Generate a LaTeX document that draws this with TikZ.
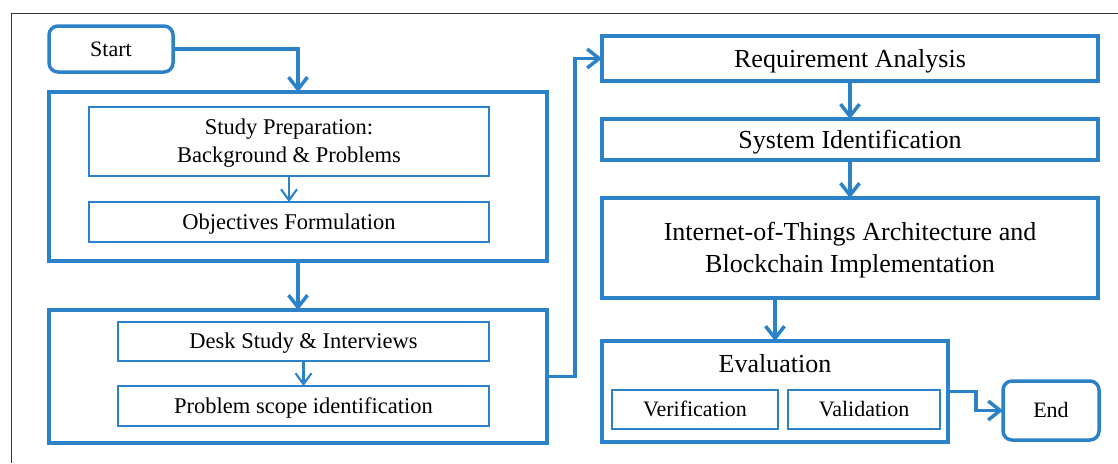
\documentclass[tikz,border=0pt]{standalone}
\usepackage{fontspec}
\setmainfont{Liberation Serif}
\usetikzlibrary{arrows.meta}
\definecolor{flowblue}{RGB}{44,130,200}
\definecolor{framegray}{RGB}{55,55,55}
\newcommand{\smalltxt}{\fontsize{22.5}{28}\selectfont}
\newcommand{\bigtxt}{\fontsize{26}{32}\selectfont}
\newcommand{\termtxt}{\fontsize{22}{26}\selectfont}
\newcommand{\subtxt}{\fontsize{22}{26}\selectfont}
\tikzset{
  outerbox/.style={draw=flowblue, line width=3.5pt, inner sep=0pt, outer sep=0pt},
  innerbox/.style={draw=flowblue, line width=2.2pt, inner sep=0pt, outer sep=0pt, align=center, font=\smalltxt,
    text height=14.9pt, text depth=0pt},
  bigbox/.style={draw=flowblue, line width=3.5pt, inner sep=0pt, outer sep=0pt, align=center, font=\bigtxt,
    text height=17.2pt, text depth=0pt},
  termbox/.style={draw=flowblue, line width=3.5pt, rounded corners=9pt, inner sep=0pt, outer sep=0pt, font=\termtxt,
    text height=14.6pt, text depth=0pt},
  subbox/.style={draw=flowblue, line width=2pt, inner sep=0pt, outer sep=0pt, font=\subtxt,
    text height=14.5pt, text depth=0pt},
  titletext/.style={font=\bigtxt, inner sep=0pt, text height=17.2pt, text depth=0pt},
  twolines/.style={inner sep=0pt, align=center},
  thickflow/.style={draw=flowblue, line width=3.5pt, -{Straight Barb[length=12pt, width=19pt, line width=3.5pt]}},
  thinflow/.style={draw=flowblue, line width=2.1pt, -{Straight Barb[length=11pt, width=16pt, line width=2.1pt]}},
}
\begin{document}
\begin{tikzpicture}[x=1pt, y=-1pt]
  \useasboundingbox (0,0) rectangle (1118,463);
  % page frame
  \draw[framegray, line width=1pt] (1118,13) -- (11,13) -- (11,463);

  % left column
  \node[termbox, minimum width=124pt, minimum height=46pt] (start) at (111,49) {Start};

  \node[outerbox, minimum width=498pt, minimum height=169pt] (prepgroup) at (298,176.5) {};
  \node[innerbox, minimum width=400pt, minimum height=69pt] (prep) at (289,141.5) {};
  \node[twolines, font=\smalltxt] (preptext) at (289,143.5) {Study Preparation:\\Background \& Problems};
  \node[innerbox, minimum width=400pt, minimum height=40pt] (obj) at (289,222) {Objectives Formulation};

  \node[outerbox, minimum width=498pt, minimum height=133pt] (deskgroup) at (298,376.5) {};
  \node[innerbox, minimum width=371pt, minimum height=39pt] (desk) at (303.5,341.5) {Desk Study \& Interviews};
  \node[innerbox, minimum width=371pt, minimum height=40pt] (scope) at (303.5,406) {Problem scope identification};

  % right column
  \node[bigbox, minimum width=496pt, minimum height=45pt] (req) at (850,58.5) {Requirement Analysis};
  \node[bigbox, minimum width=496pt, minimum height=41pt] (sysid) at (850,139.5) {System Identification};
  \node[bigbox, minimum width=496pt, minimum height=100pt] (iot) at (850,248) {};
  \node[twolines, font=\bigtxt] (iottext) at (850,250.5) {Internet-of-Things Architecture and\\Blockchain Implementation};

  \node[outerbox, minimum width=346pt, minimum height=101pt] (evalgroup) at (775,391.5) {};
  \node[titletext] (evaltitle) at (775,363.5) {Evaluation};
  \node[subbox, minimum width=166pt, minimum height=39pt] (verif) at (695,409.5) {Verification};
  \node[subbox, minimum width=152pt, minimum height=39pt] (valid) at (864,409.5) {Validation};

  \node[termbox, minimum width=96pt, minimum height=59pt] (finish) at (1051,410.5) {End};

  % connectors
  \draw[thickflow] (start.east) -| (prepgroup.north);
  \draw[thinflow] (prep.south) -- (obj.north);
  \draw[thickflow] (prepgroup.south) -- (deskgroup.north);
  \draw[thinflow] (desk.south) -- (scope.north);
  \draw[thickflow] (deskgroup.east) -- ++(28,0) |- (req.west);
  \draw[thickflow] (req.south) -- (sysid.north);
  \draw[thickflow] (sysid.south) -- (iot.north);
  \draw[thickflow] (iot.south -| evalgroup.north) -- (evalgroup.north);
  \draw[thickflow] (evalgroup.east) -- ++(28,0) |- (finish.west);
\end{tikzpicture}
\end{document}
